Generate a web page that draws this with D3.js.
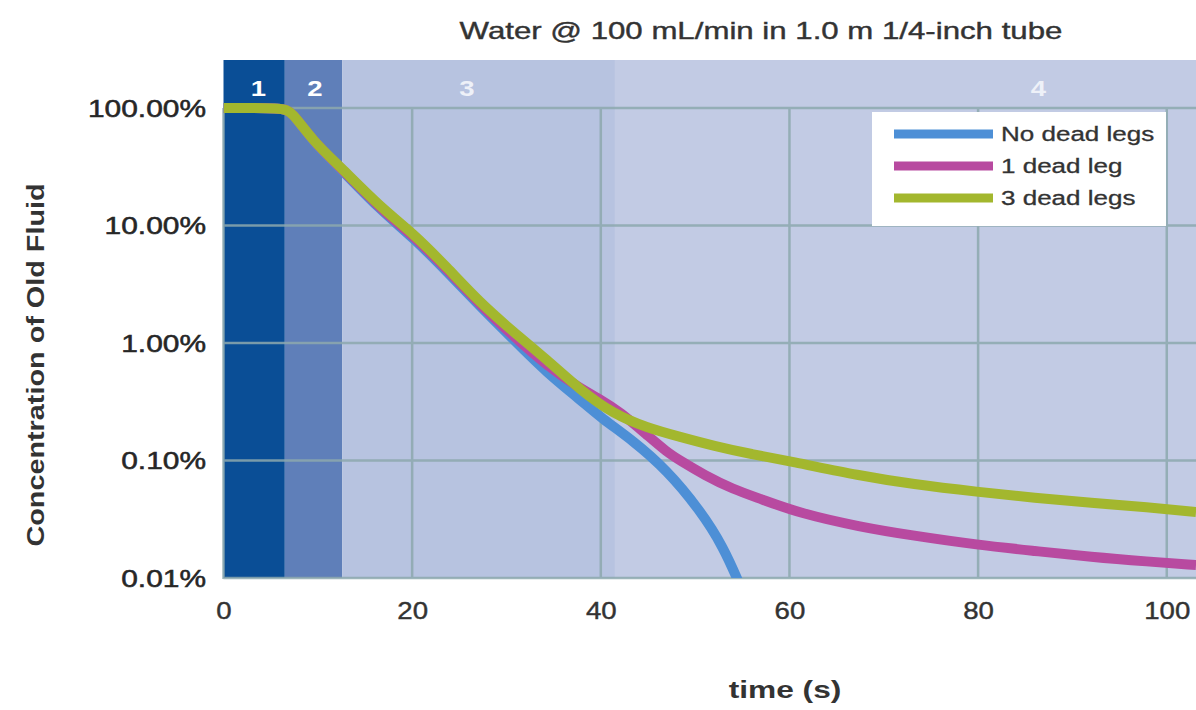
<!DOCTYPE html>
<html>
<head>
<meta charset="utf-8">
<script src="https://cdn.jsdelivr.net/npm/d3@7"></script>
<style>
  html, body { margin: 0; padding: 0; background: #ffffff; }
  svg { display: block; font-family: "Liberation Sans", Arial, sans-serif; }
</style>
</head>
<body>
<svg id="chart" width="1196" height="710"></svg>
<script>
// ---------------- data ----------------
const chartTitle = "Water @ 100 mL/min in 1.0 m 1/4-inch tube";
const xTitle = "time (s)";
const yTitle = "Concentration of Old Fluid";
const seriesNames = ["No dead legs", "1 dead leg", "3 dead legs"];
const seriesColors = ["#4d8fd6", "#b84aa0", "#a3b72e"];

const timeNoDead = [0, 6.3, 7.2, 9.5, 12.5, 16.6, 20.1, 23.7, 27.2, 30.7, 34.3, 37.8, 40.1, 43.4, 47, 50.5, 53, 54.8];
const valNoDead  = [100, 100, 94, 51, 30, 13.6, 7.9, 4.05, 2.05, 1.08, 0.556, 0.33, 0.228, 0.148, 0.083, 0.038, 0.0184, 0.0085];

const timeOneDead = [0, 6.3, 7.2, 9.5, 12.5, 16.6, 20.1, 23.7, 27.2, 30.7, 34.3, 37.8, 40, 42, 44.9, 47, 48.4, 51, 54, 57, 61, 67.5, 73, 80, 86, 92, 98, 103.1];
const valOneDead  = [100, 100, 94, 52, 30.5, 14.0, 8.2, 4.25, 2.12, 1.15, 0.64, 0.41, 0.33, 0.26, 0.165, 0.118, 0.10, 0.075, 0.057, 0.047, 0.0357, 0.0272, 0.023, 0.0191, 0.017, 0.0151, 0.0138, 0.0129];

const timeThreeDead = [0, 6.3, 7.2, 9.5, 12.5, 16.6, 20.1, 23.7, 27.2, 30.7, 34.3, 37.8, 41.3, 44.9, 48.4, 52, 56, 60, 67.5, 73, 80, 86, 92, 98, 103.1];
const valThreeDead  = [100, 100, 94, 52, 31, 14.4, 8.6, 4.4, 2.2, 1.25, 0.72, 0.40, 0.25, 0.19, 0.159, 0.133, 0.113, 0.099, 0.074, 0.063, 0.054, 0.048, 0.0435, 0.040, 0.0365];

const xTickValues = [0, 20, 40, 60, 80, 100];
const yTickValues = [100, 10, 1, 0.1, 0.01];
const yTickLabels = ["100.00%", "10.00%", "1.00%", "0.10%", "0.01%"];

const bandStarts = [0, 6.5, 12.6, 41.5];
const bandEnds   = [6.5, 12.6, 41.5, 103.1];
const bandLabels = ["1", "2", "3", "4"];
const bandLabelAt = [3.7, 9.7, 25.8, 86.4];
const bandColors = ["#0a4e96", "#5f7fb9", "#b7c3e0", "#c2cbe4"];

// ---------------- layout ----------------
const svg = d3.select("#chart");
const plotTop = 60, plotBottom = 578;
const x = d3.scaleLinear().domain([0, 103.1]).range([223.5, 1196]);
const y = d3.scaleLog().domain([0.01, 100]).range([plotBottom, 108]);
const gridColor = "#8da9ae";

function stretch(sel, f) {
  sel.each(function () {
    const len = this.getComputedTextLength();
    d3.select(this).attr("textLength", len * f).attr("lengthAdjust", "spacingAndGlyphs");
  });
}

svg.append("rect").attr("width", 1196).attr("height", 710).attr("fill", "#fff");

// clip
svg.append("clipPath").attr("id", "plotclip").append("rect")
  .attr("x", x(0)).attr("y", plotTop).attr("width", x(103.1) - x(0)).attr("height", plotBottom - plotTop);

// bands
svg.append("g").selectAll("rect").data(bandStarts).join("rect")
  .attr("x", (d) => x(d))
  .attr("y", plotTop)
  .attr("width", (d, i) => x(bandEnds[i]) - x(d))
  .attr("height", plotBottom - plotTop)
  .attr("fill", (d, i) => bandColors[i]);

// grid
const grid = svg.append("g").attr("opacity", 0.85);
grid.selectAll("line.v").data(xTickValues).join("line")
  .attr("class", "v")
  .attr("x1", (d) => x(d)).attr("x2", (d) => x(d))
  .attr("y1", 108).attr("y2", plotBottom + 1)
  .attr("stroke", gridColor).attr("stroke-width", 2.5);
grid.selectAll("line.h").data(yTickValues).join("line")
  .attr("class", "h")
  .attr("x1", x(0)).attr("x2", 1196)
  .attr("y1", (d) => y(d)).attr("y2", (d) => y(d))
  .attr("stroke", gridColor).attr("stroke-width", 2.5);

// band labels
const bl = svg.append("g").selectAll("text").data(bandLabels).join("text")
  .attr("x", (d, i) => x(bandLabelAt[i]))
  .attr("y", 96)
  .attr("text-anchor", "middle")
  .attr("font-size", 22)
  .attr("font-weight", "bold")
  .attr("fill", (d, i) => i < 2 ? "#ffffff" : "#eef1f8")
  .text((d) => d);
stretch(bl, 1.25);

// legend
const lg = svg.append("g");
lg.append("rect").attr("x", 872).attr("y", 112).attr("width", 294).attr("height", 114).attr("fill", "#fff");
const legY = [134, 166, 198];
seriesNames.forEach((name, i) => {
  lg.append("line").attr("x1", 894).attr("x2", 993).attr("y1", legY[i]).attr("y2", legY[i])
    .attr("stroke", seriesColors[i]).attr("stroke-width", 9);
  const t = lg.append("text").attr("x", 1001).attr("y", legY[i] + 7)
    .attr("font-size", 20).attr("fill", "#333")
    .attr("stroke", "#333").attr("stroke-width", 0.3).text(name);
  stretch(t, 1.3);
});

// lines
const line = d3.line().x((d) => x(d[0])).y((d) => y(d[1])).curve(d3.curveBasis);
const seriesData = [
  d3.zip(timeNoDead, valNoDead),
  d3.zip(timeOneDead, valOneDead),
  d3.zip(timeThreeDead, valThreeDead)
];
svg.append("g").attr("clip-path", "url(#plotclip)")
  .selectAll("path").data(seriesData).join("path")
  .attr("d", line)
  .attr("fill", "none")
  .attr("stroke", (d, i) => seriesColors[i])
  .attr("stroke-width", 10)
  .attr("stroke-linejoin", "round");

// axes
const yAxis = svg.append("g").attr("transform", "translate(206,0)")
  .call(d3.axisLeft(y).tickValues(yTickValues).tickFormat((d, i) => yTickLabels[i]).tickSize(0).tickPadding(0));
yAxis.select(".domain").remove();
yAxis.selectAll("text").attr("font-size", 23).attr("fill", "#262626")
  .attr("stroke", "#262626").attr("stroke-width", 0.5)
  .attr("font-family", "Liberation Sans, Arial, sans-serif").attr("dy", "0.35em");
stretch(yAxis.selectAll("text"), 1.3);

const xAxis = svg.append("g").attr("transform", `translate(0,${plotBottom})`)
  .call(d3.axisBottom(x).tickValues(xTickValues).tickSize(0).tickPadding(33));
xAxis.select(".domain").remove();
xAxis.selectAll("text").attr("font-size", 23).attr("fill", "#333")
  .attr("stroke", "#333").attr("stroke-width", 0.4)
  .attr("font-family", "Liberation Sans, Arial, sans-serif").attr("dy", "0.36em");
stretch(xAxis.selectAll("text"), 1.2);

// titles
const tt = svg.append("text").attr("x", 761).attr("y", 39).attr("text-anchor", "middle")
  .attr("font-size", 24).attr("fill", "#333").attr("stroke", "#333").attr("stroke-width", 0.4)
  .text(chartTitle);
stretch(tt, 1.3);

const xt = svg.append("text").attr("x", 785).attr("y", 698).attr("text-anchor", "middle")
  .attr("font-size", 24).attr("font-weight", "bold").attr("fill", "#333").text(xTitle);
stretch(xt, 1.32);

const yt = svg.append("text").attr("transform", "translate(44,365) rotate(-90)")
  .attr("text-anchor", "middle")
  .attr("font-size", 24).attr("font-weight", "bold").attr("fill", "#333").text(yTitle);
stretch(yt, 1.2);
</script>
</body>
</html>
